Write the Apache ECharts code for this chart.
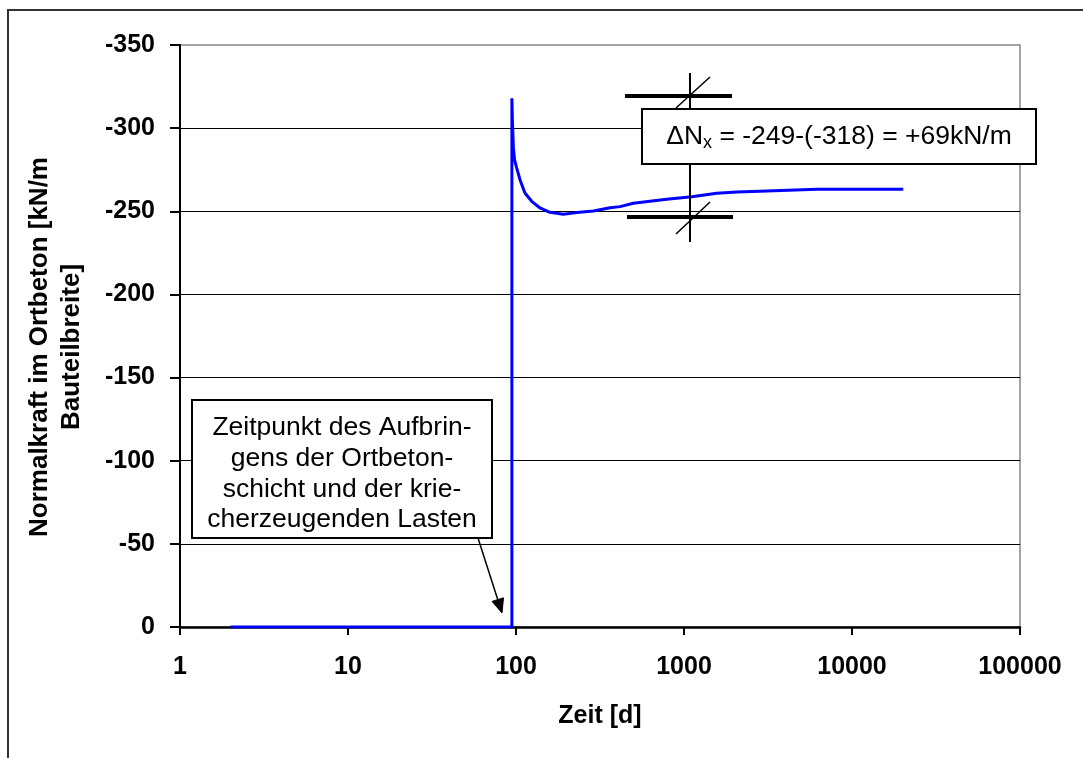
<!DOCTYPE html>
<html><head><meta charset="utf-8">
<script src="https://cdn.jsdelivr.net/npm/echarts/dist/echarts.min.js"></script>
<style>html,body{margin:0;padding:0;background:#fff}#c{width:1083px;height:758px}</style>
</head><body><div id="c"></div>
<script>
// Data
const timeDays = [2, 94.5, 94.5, 95.3, 96.5, 98, 101, 105.6, 113, 124, 139, 159, 191, 230, 289, 363, 416, 499, 789, 1111, 1566, 2061, 3107, 6166, 20200];
const normalForce = [0, 0, -318, -303, -288, -281, -276, -269, -261, -256, -252, -249.4, -248.2, -249.2, -250.2, -252.1, -252.8, -254.8, -257.2, -258.8, -260.8, -261.6, -262.2, -263.2, -263.2];
const yGridValues = [-300, -250, -200, -150, -100, -50];
const xTickValues = [1, 10, 100, 1000, 10000, 100000];
const yTitle = 'Normalkraft im Ortbeton [kN/m\nBauteilbreite]';
const xTitle = 'Zeit [d]';
const noteLeft = 'Zeitpunkt des Aufbrin-\ngens der Ortbeton-\nschicht und der krie-\ncherzeugenden Lasten';

const FONT = "'Liberation Sans', Arial, sans-serif";
const chart = echarts.init(document.getElementById('c'), null, {renderer: 'canvas'});

const seriesData = timeDays.map((t, i) => [t, normalForce[i]]);

const option = {
  backgroundColor: '#fff',
  animation: false,
  grid: {left: 180, right: 63, top: 45, bottom: 131, show: true, borderColor: '#888', borderWidth: 1.5, backgroundColor: 'transparent'},
  xAxis: {
    type: 'log', logBase: 10, min: xTickValues[0], max: xTickValues[xTickValues.length - 1],
    name: xTitle, nameLocation: 'middle', nameGap: 77,
    nameTextStyle: {fontFamily: FONT, fontWeight: 'bold', fontSize: 25, color: '#000'},
    axisLine: {lineStyle: {color: '#000', width: 2.5}},
    axisTick: {show: true, inside: false, length: 8, lineStyle: {color: '#000', width: 2}},
    minorTick: {show: false},
    splitLine: {show: false},
    axisLabel: {margin: 28, fontFamily: FONT, fontWeight: 'bold', fontSize: 25, color: '#000',
      formatter: v => String(Math.round(v))}
  },
  yAxis: {
    type: 'value', inverse: true, min: -350, max: 0, interval: 50,
    axisLine: {show: true, lineStyle: {color: '#000', width: 2}},
    axisTick: {show: true, inside: false, length: 10, lineStyle: {color: '#000', width: 2}},
    splitLine: {show: false},
    axisLabel: {margin: 25, fontFamily: FONT, fontWeight: 'bold', fontSize: 25, color: '#000'}
  },
  series: [{
    type: 'line', data: seriesData, showSymbol: false, symbol: 'none',
    lineStyle: {color: '#0000FF', width: 3}, z: 3,
    markLine: {
      silent: true, symbol: ['none', 'none'], animation: false, z: 1,
      label: {show: false},
      lineStyle: {color: '#000', width: 1, type: 'solid'},
      data: yGridValues.map(v => ({yAxis: v}))
    }
  }],
  graphic: [
    {type: 'rect', z: 0, silent: true, shape: {x: 8, y: 10, width: 1300, height: 900},
      style: {fill: 'none', stroke: '#333', lineWidth: 2}},
    // y axis title
    {type: 'text', z: 10, x: 56, y: 347, rotation: Math.PI / 2,
      style: {text: yTitle, align: 'center', verticalAlign: 'middle', fontFamily: FONT, fontWeight: 'bold',
        fontSize: 26, lineHeight: 32, fill: '#000'}},
    // delta marker
    {type: 'line', z: 50, shape: {x1: 690, y1: 73, x2: 690, y2: 242}, style: {stroke: '#000', lineWidth: 2}},
    {type: 'line', z: 50, shape: {x1: 625, y1: 96, x2: 732, y2: 96}, style: {stroke: '#000', lineWidth: 4}},
    {type: 'line', z: 50, shape: {x1: 627, y1: 217, x2: 733, y2: 217}, style: {stroke: '#000', lineWidth: 4}},
    {type: 'line', z: 50, shape: {x1: 676, y1: 108, x2: 710, y2: 77}, style: {stroke: '#000', lineWidth: 1.5}},
    {type: 'line', z: 50, shape: {x1: 676, y1: 234, x2: 710, y2: 202}, style: {stroke: '#000', lineWidth: 1.5}},
    {type: 'rect', z: 60, shape: {x: 642, y: 109, width: 394, height: 55},
      style: {fill: '#fff', stroke: '#000', lineWidth: 2}},
    {type: 'text', z: 61, x: 839, y: 137,
      style: {text: '{m|ΔN}{s|x}{m| = -249-(-318) = +69kN/m}', align: 'center', verticalAlign: 'middle',
        rich: {
          m: {fontFamily: FONT, fontSize: 26.5, lineHeight: 31, fill: '#000', color: '#000'},
          s: {fontFamily: FONT, fontSize: 18, lineHeight: 18, verticalAlign: 'bottom', fill: '#000', color: '#000'}
        }}},
    // left note
    {type: 'rect', z: 60, shape: {x: 192, y: 400, width: 300, height: 138},
      style: {fill: '#fff', stroke: '#000', lineWidth: 2}},
    {type: 'text', z: 61, x: 342, y: 474,
      style: {text: noteLeft, align: 'center', verticalAlign: 'middle', fontFamily: FONT, fontSize: 26.5,
        lineHeight: 30.7, fill: '#000'}},
    {type: 'line', z: 60, shape: {x1: 478, y1: 538, x2: 498.5, y2: 602}, style: {stroke: '#000', lineWidth: 1.5}},
    {type: 'polygon', z: 60, shape: {points: [[502, 613], [492.1, 601.4], [503.5, 597.8]]},
      style: {fill: '#000', stroke: '#000', lineWidth: 1}}
  ]
};
chart.setOption(option);
</script>
</body></html>
